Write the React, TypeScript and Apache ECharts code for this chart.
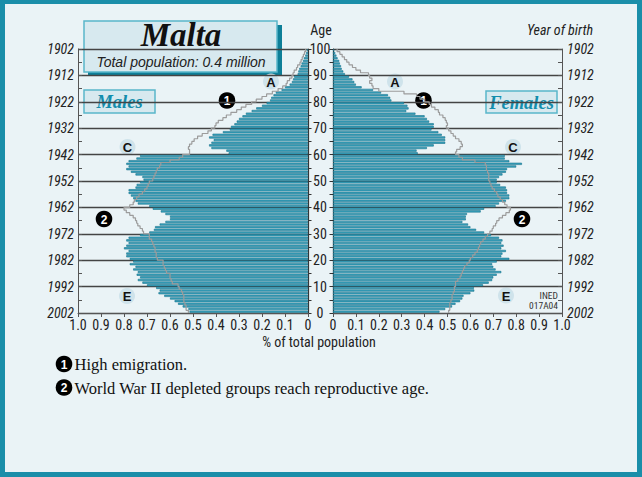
import React, { useEffect, useRef } from 'react';
import * as echarts from 'echarts';

// Ages 0..99 (single-year age groups), index = age
const AGES: string[] = Array.from({ length: 100 }, (_, i) => String(i));
const REF_YEAR = 2002;

// % of total population, males by age (0..99)
const MALES: number[] = [
  0.515, 0.52, 0.545, 0.565, 0.58, 0.6, 0.625, 0.65, 0.645, 0.66,
  0.7, 0.72, 0.74, 0.73, 0.745, 0.74, 0.76, 0.75, 0.775, 0.76,
  0.775, 0.79, 0.79, 0.78, 0.8, 0.79, 0.78, 0.79, 0.78, 0.73,
  0.69, 0.67, 0.665, 0.645, 0.62, 0.6, 0.6, 0.62, 0.64, 0.675,
  0.69, 0.74, 0.75, 0.76, 0.77, 0.78, 0.78, 0.75, 0.745, 0.73,
  0.715, 0.72, 0.75, 0.77, 0.79, 0.78, 0.79, 0.78, 0.746, 0.73,
  0.345, 0.355, 0.42, 0.43, 0.42, 0.41, 0.43, 0.415, 0.37, 0.34,
  0.335, 0.32, 0.31, 0.3, 0.285, 0.27, 0.245, 0.225, 0.2, 0.18,
  0.165, 0.16, 0.15, 0.14, 0.115, 0.1, 0.08, 0.07, 0.065, 0.06,
  0.045, 0.042, 0.038, 0.032, 0.028, 0.022, 0.018, 0.012, 0.008, 0.005,
];

// % of total population, females by age (0..99)
const FEMALES: number[] = [
  0.465, 0.49, 0.52, 0.535, 0.555, 0.565, 0.57, 0.6, 0.617, 0.615,
  0.655, 0.68, 0.695, 0.7, 0.715, 0.735, 0.71, 0.7, 0.695, 0.715,
  0.77, 0.735, 0.74, 0.755, 0.735, 0.745, 0.735, 0.74, 0.725, 0.69,
  0.66, 0.625, 0.6, 0.59, 0.565, 0.58, 0.58, 0.585, 0.645, 0.66,
  0.71, 0.725, 0.755, 0.77, 0.77, 0.76, 0.76, 0.755, 0.73, 0.715,
  0.715, 0.725, 0.74, 0.755, 0.76, 0.8, 0.825, 0.77, 0.75, 0.75,
  0.37, 0.365, 0.41, 0.44, 0.49, 0.49, 0.49, 0.475, 0.46, 0.43,
  0.44, 0.44, 0.42, 0.41, 0.4, 0.36, 0.32, 0.33, 0.325, 0.31,
  0.255, 0.25, 0.24, 0.21, 0.175, 0.125, 0.1, 0.093, 0.085, 0.07,
  0.052, 0.045, 0.038, 0.035, 0.03, 0.027, 0.02, 0.015, 0.01, 0.005,
];

// Grey comparison outline, males (0..99)
const MALES_REF: number[] = [
  0.52, 0.53, 0.53, 0.535, 0.54, 0.54, 0.54, 0.545, 0.55, 0.56,
  0.565, 0.59, 0.595, 0.6, 0.6, 0.615, 0.62, 0.625, 0.63, 0.63,
  0.655, 0.66, 0.66, 0.665, 0.665, 0.67, 0.675, 0.68, 0.69, 0.69,
  0.715, 0.72, 0.73, 0.74, 0.745, 0.75, 0.76, 0.775, 0.79, 0.8,
  0.775, 0.76, 0.755, 0.745, 0.735, 0.72, 0.71, 0.7, 0.695, 0.69,
  0.675, 0.67, 0.665, 0.66, 0.655, 0.645, 0.64, 0.6, 0.56, 0.545,
  0.515, 0.515, 0.52, 0.515, 0.505, 0.495, 0.48, 0.46, 0.435, 0.42,
  0.405, 0.4, 0.39, 0.37, 0.355, 0.335, 0.31, 0.29, 0.27, 0.245,
  0.225, 0.2, 0.18, 0.155, 0.13, 0.11, 0.095, 0.09, 0.08, 0.07,
  0.065, 0.06, 0.05, 0.045, 0.035, 0.03, 0.025, 0.02, 0.015, 0.01,
];

// Grey comparison outline, females (0..99)
const FEMALES_REF: number[] = [
  0.505, 0.51, 0.51, 0.51, 0.515, 0.52, 0.52, 0.525, 0.53, 0.53,
  0.535, 0.535, 0.545, 0.555, 0.56, 0.565, 0.57, 0.575, 0.585, 0.595,
  0.6, 0.61, 0.62, 0.63, 0.635, 0.64, 0.645, 0.655, 0.665, 0.675,
  0.685, 0.695, 0.7, 0.71, 0.715, 0.725, 0.74, 0.755, 0.77, 0.775,
  0.76, 0.75, 0.74, 0.73, 0.72, 0.715, 0.705, 0.695, 0.69, 0.685,
  0.68, 0.68, 0.68, 0.675, 0.67, 0.67, 0.665, 0.62, 0.565, 0.55,
  0.535, 0.54, 0.555, 0.565, 0.56, 0.55, 0.535, 0.525, 0.515, 0.505,
  0.495, 0.5, 0.495, 0.49, 0.48, 0.465, 0.46, 0.445, 0.43, 0.42,
  0.4, 0.38, 0.365, 0.31, 0.2, 0.175, 0.17, 0.16, 0.17, 0.16,
  0.155, 0.12, 0.1, 0.085, 0.07, 0.06, 0.05, 0.04, 0.03, 0.018,
];

const FOOTNOTES: string[] = [
  'High emigration.',
  'World War II depleted groups reach reproductive age.',
];

const NARROW = "'Roboto Condensed','Liberation Sans',Arial,sans-serif";
const SANS = "'Liberation Sans',Arial,sans-serif";
const SERIF = "'Liberation Serif','Times New Roman',serif";
const TEAL = '#1a8ea9';
const BG = '#eaf3f6';
const BOX_FILL = '#d7e9ef';
const BOX_STROKE = '#5ab6ca';
const BAR_FILL = '#3ca4bf';
const BAR_BORDER = '#16728b';
const REF_LINE = '#9c9c9c';
const GRID_LINE = '#444';
const AXIS_LINE = '#555';

function stepPoints(vals: number[]): number[][] {
  const pts: number[][] = [];
  vals.forEach((v, a) => {
    pts.push([v, a], [v, a + 1]);
  });
  return pts;
}

const fmtX = (v: number) => (v === 0 ? '0' : v.toFixed(1));

function xAxisCfg(gridIndex: number, inverse: boolean) {
  return {
    gridIndex,
    type: 'value',
    min: 0,
    max: 1,
    interval: 0.1,
    inverse,
    axisLine: { show: true, lineStyle: { color: AXIS_LINE, width: 1 } },
    axisTick: { show: true, length: 4, lineStyle: { color: AXIS_LINE } },
    axisLabel: { margin: 5, fontFamily: NARROW, fontSize: 14, color: '#222', formatter: fmtX },
    splitLine: { show: false },
  };
}

function yearAxis(gridIndex: number, position: string, margin: number) {
  return {
    gridIndex,
    type: 'value',
    min: 0,
    max: 100,
    interval: 5,
    position,
    axisLine: { show: true, lineStyle: { color: AXIS_LINE, width: 1 } },
    axisTick: { show: true, inside: true, length: 4, lineStyle: { color: AXIS_LINE } },
    axisLabel: {
      margin,
      fontFamily: NARROW,
      fontSize: 14,
      fontStyle: 'italic',
      color: '#222',
      padding: [0, 0, 7, 0],
      formatter: (v: number) => (v % 10 === 0 ? String(REF_YEAR - v) : ''),
    },
    splitLine: { show: false },
  };
}

function ageAxis(gridIndex: number, position: string, showLabels: boolean) {
  return {
    gridIndex,
    type: 'value',
    min: 0,
    max: 100,
    interval: 5,
    position,
    axisLine: { show: true, lineStyle: { color: '#333', width: 1.2 } },
    axisTick: { show: true, inside: false, length: 3.5, lineStyle: { color: '#333' } },
    axisLabel: {
      show: showLabels,
      margin: 12,
      align: 'center',
      fontFamily: NARROW,
      fontSize: 14,
      color: '#222',
      padding: [0, 0, 7, 0],
      formatter: (v: number) => (v % 10 === 0 ? String(v) : ''),
    },
    splitLine: { show: false },
  };
}

function splitAxis(gridIndex: number, position: string) {
  return {
    gridIndex,
    type: 'value',
    min: 0,
    max: 100,
    interval: 10,
    position,
    axisLine: { show: false },
    axisTick: { show: false },
    axisLabel: { show: false },
    splitLine: { show: true, lineStyle: { color: GRID_LINE, width: 1.3 } },
  };
}

function catAxis(gridIndex: number, position: string) {
  return {
    gridIndex,
    type: 'category',
    data: AGES,
    position,
    show: false,
  };
}

function circleLabel(cx: number, cy: number, text: string, dark: boolean) {
  return {
    type: 'group',
    z: 50,
    children: [
      {
        type: 'circle',
        shape: { cx, cy, r: dark ? 8.3 : 8 },
        style: { fill: dark ? '#000' : '#cfe3eb' },
      },
      {
        type: 'text',
        x: cx,
        y: cy + 0.5,
        style: {
          text,
          fill: dark ? '#fff' : '#111',
          font: `bold ${dark ? 12 : 13}px ${SANS}`,
          align: 'center',
          verticalAlign: 'middle',
        },
      },
    ],
  };
}

function labelBox(x: number, y: number, w: number, h: number, text: string) {
  return {
    type: 'group',
    z: 40,
    children: [
      {
        type: 'rect',
        shape: { x, y, width: w, height: h },
        style: { fill: BOX_FILL, stroke: BOX_STROKE, lineWidth: 1.5 },
      },
      {
        type: 'text',
        x: x + w / 2,
        y: y + h / 2 + 0.5,
        style: {
          text,
          fill: '#138dac',
          font: `italic bold 18.5px ${SERIF}`,
          align: 'center',
          verticalAlign: 'middle',
        },
      },
    ],
  };
}

function buildOption() {
  const graphics: any[] = [
    // frame
    { type: 'rect', z: 60, shape: { x: 0, y: 0, width: 642, height: 4 }, style: { fill: TEAL } },
    { type: 'rect', z: 60, shape: { x: 0, y: 0, width: 5, height: 477 }, style: { fill: TEAL } },
    { type: 'rect', z: 60, shape: { x: 637, y: 0, width: 5, height: 477 }, style: { fill: TEAL } },
    { type: 'rect', z: 60, shape: { x: 0, y: 472, width: 642, height: 5 }, style: { fill: TEAL } },
    // title box
    {
      type: 'group',
      z: 40,
      children: [
        { type: 'rect', shape: { x: 88, y: 25, width: 194, height: 51 }, style: { fill: '#0e7f98' } },
        {
          type: 'rect',
          shape: { x: 84, y: 21, width: 193, height: 51 },
          style: { fill: BOX_FILL, stroke: BOX_STROKE, lineWidth: 1.5 },
        },
        {
          type: 'text',
          x: 181,
          y: 35,
          style: { text: 'Malta', fill: '#111', font: `italic bold 33px ${SERIF}`, align: 'center', verticalAlign: 'middle' },
        },
        {
          type: 'text',
          x: 181,
          y: 62,
          style: {
            text: 'Total population: 0.4 million',
            fill: '#222',
            font: `italic 14px ${SANS}`,
            align: 'center',
            verticalAlign: 'middle',
          },
        },
      ],
    },
    labelBox(84, 90, 71, 23, 'Males'),
    labelBox(486, 91, 71, 22, 'Females'),
    // headings
    {
      type: 'text',
      x: 321,
      y: 30,
      style: { text: 'Age', fill: '#222', font: `14px ${NARROW}`, align: 'center', verticalAlign: 'middle' },
    },
    {
      type: 'text',
      x: 593,
      y: 30,
      style: { text: 'Year of birth', fill: '#222', font: `italic 14px ${NARROW}`, align: 'right', verticalAlign: 'middle' },
    },
    {
      type: 'text',
      x: 319,
      y: 342,
      style: { text: '% of total population', fill: '#222', font: `14px ${NARROW}`, align: 'center', verticalAlign: 'middle' },
    },
    {
      type: 'text',
      x: 558,
      y: 295,
      style: { text: 'INED', fill: '#333', font: `9.5px ${NARROW}`, align: 'right', verticalAlign: 'middle' },
    },
    {
      type: 'text',
      x: 558,
      y: 305,
      style: { text: '017A04', fill: '#333', font: `9.5px ${NARROW}`, align: 'right', verticalAlign: 'middle' },
    },
    // annotations
    circleLabel(271, 81.5, 'A', false),
    circleLabel(395, 81.5, 'A', false),
    circleLabel(127.5, 147, 'C', false),
    circleLabel(513, 147, 'C', false),
    circleLabel(127, 296, 'E', false),
    circleLabel(506, 295.5, 'E', false),
    circleLabel(227, 100.5, '1', true),
    circleLabel(423.5, 100.5, '1', true),
    circleLabel(104, 219, '2', true),
    circleLabel(522, 219, '2', true),
  ];

  FOOTNOTES.forEach((t, i) => {
    const y = 364 + i * 23.5;
    graphics.push(circleLabel(64, y, String(i + 1), true));
    graphics.push({
      type: 'text',
      x: 74.5,
      y: y + 0.5,
      style: { text: t, fill: '#111', font: `16.5px ${SERIF}`, align: 'left', verticalAlign: 'middle' },
    });
  });

  const barStyle = { color: BAR_FILL, borderColor: BAR_BORDER, borderWidth: 0.6 };

  return {
    animation: false,
    backgroundColor: BG,
    grid: [
      { left: 78, top: 49, width: 230, height: 264 },
      { left: 333, top: 49, width: 229, height: 264 },
    ],
    xAxis: [xAxisCfg(0, true), xAxisCfg(1, false)],
    yAxis: [
      catAxis(0, 'right'), // 0
      yearAxis(0, 'left', 4), // 1
      ageAxis(0, 'right', true), // 2
      splitAxis(0, 'left'), // 3
      catAxis(1, 'left'), // 4
      yearAxis(1, 'right', 5), // 5
      ageAxis(1, 'left', false), // 6
      splitAxis(1, 'right'), // 7
    ],
    series: [
      {
        type: 'bar',
        name: 'Males',
        xAxisIndex: 0,
        yAxisIndex: 0,
        data: MALES,
        barCategoryGap: '18%',
        itemStyle: barStyle,
        silent: true,
        z: 2,
      },
      {
        type: 'bar',
        name: 'Females',
        xAxisIndex: 1,
        yAxisIndex: 4,
        data: FEMALES,
        barCategoryGap: '18%',
        itemStyle: barStyle,
        silent: true,
        z: 2,
      },
      {
        type: 'line',
        name: 'Males reference',
        xAxisIndex: 0,
        yAxisIndex: 3,
        data: stepPoints(MALES_REF),
        symbol: 'none',
        lineStyle: { color: REF_LINE, width: 1.2 },
        silent: true,
        z: 3,
      },
      {
        type: 'line',
        name: 'Females reference',
        xAxisIndex: 1,
        yAxisIndex: 7,
        data: stepPoints(FEMALES_REF),
        symbol: 'none',
        lineStyle: { color: REF_LINE, width: 1.2 },
        silent: true,
        z: 3,
      },
    ],
    graphic: graphics,
  };
}

export default function App() {
  const ref = useRef<HTMLDivElement>(null);
  useEffect(() => {
    if (!ref.current) return;
    const chart = echarts.init(ref.current, null, { renderer: 'svg' });
    chart.setOption(buildOption() as any);
    return () => chart.dispose();
  }, []);
  return (
    <div
      ref={ref}
      style={{ position: 'fixed', left: 0, top: 0, width: 642, height: 477, background: BG }}
    />
  );
}
